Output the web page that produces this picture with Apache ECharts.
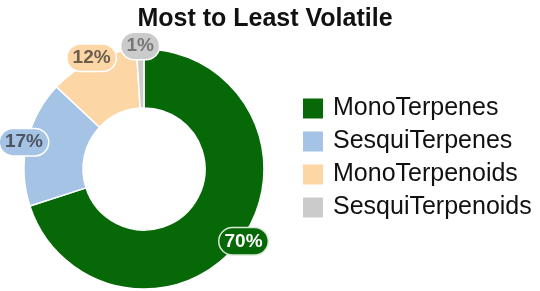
<!DOCTYPE html>
<html>
<head>
<meta charset="utf-8">
<script src="https://cdn.jsdelivr.net/npm/echarts@6/dist/echarts.min.js"></script>
<style>
  html, body { margin: 0; padding: 0; background: #fff; }
  #chart { width: 540px; height: 291px; }
</style>
</head>
<body>
<div id="chart"></div>
<script>
// data
const categories = ['MonoTerpenes', 'SesquiTerpenes', 'MonoTerpenoids', 'SesquiTerpenoids'];
const percents = [70, 17, 12, 1];
const colors = ['#076807', '#a4c3e5', '#fdd6a6', '#cbcbcb'];
const labelText = ['#ffffff', '#4f5560', '#6b5e4e', '#777777'];

const FONT = '"Liberation Sans", Arial, sans-serif';
const center = [144, 169];

const chart = echarts.init(document.getElementById('chart'));

const sliceData = categories.map((name, i) => ({
  name,
  value: percents[i],
  itemStyle: { color: colors[i] }
}));

// thin ring on the outer edge, only used to place the badges
const badgeData = categories.map((name, i) => ({
  name,
  value: percents[i],
  itemStyle: { color: 'rgba(0,0,0,0)' },
  label: {
    color: labelText[i],
    backgroundColor: colors[i],
    borderColor: i === 0 ? '#d9e8d9' : '#ffffff'
  }
}));

chart.setOption({
  animation: false,
  title: {
    text: 'Most to Least Volatile',
    left: 260,
    top: 2,
    textAlign: 'center',
    textStyle: { fontFamily: FONT, fontSize: 25, fontWeight: 'bold', color: '#111' }
  },
  legend: {
    orient: 'vertical',
    left: 296,
    top: 91,
    itemWidth: 22,
    itemHeight: 22,
    itemGap: 8,
    icon: 'rect',
    selectedMode: false,
    data: categories,
    textStyle: { fontFamily: FONT, fontSize: 25, color: '#111', padding: [0, 0, 0, 4] }
  },
  series: [
    {
      type: 'pie',
      center,
      radius: [61, 120],
      startAngle: 90,
      clockwise: true,
      silent: true,
      itemStyle: { borderColor: '#fff', borderWidth: 1.5 },
      label: { show: false },
      labelLine: { show: false },
      data: sliceData
    },
    {
      type: 'pie',
      center,
      radius: [118, 122],
      startAngle: 90,
      clockwise: true,
      silent: true,
      legendHoverLink: false,
      label: {
        show: true,
        position: 'inside',
        formatter: '{c}%',
        fontFamily: FONT,
        fontSize: 19,
        fontWeight: 'bold',
        borderWidth: 1.5,
        borderRadius: 14,
        padding: [4, 5, 3, 5]
      },
      labelLine: { show: false },
      data: badgeData
    }
  ]
});
</script>
</body>
</html>
